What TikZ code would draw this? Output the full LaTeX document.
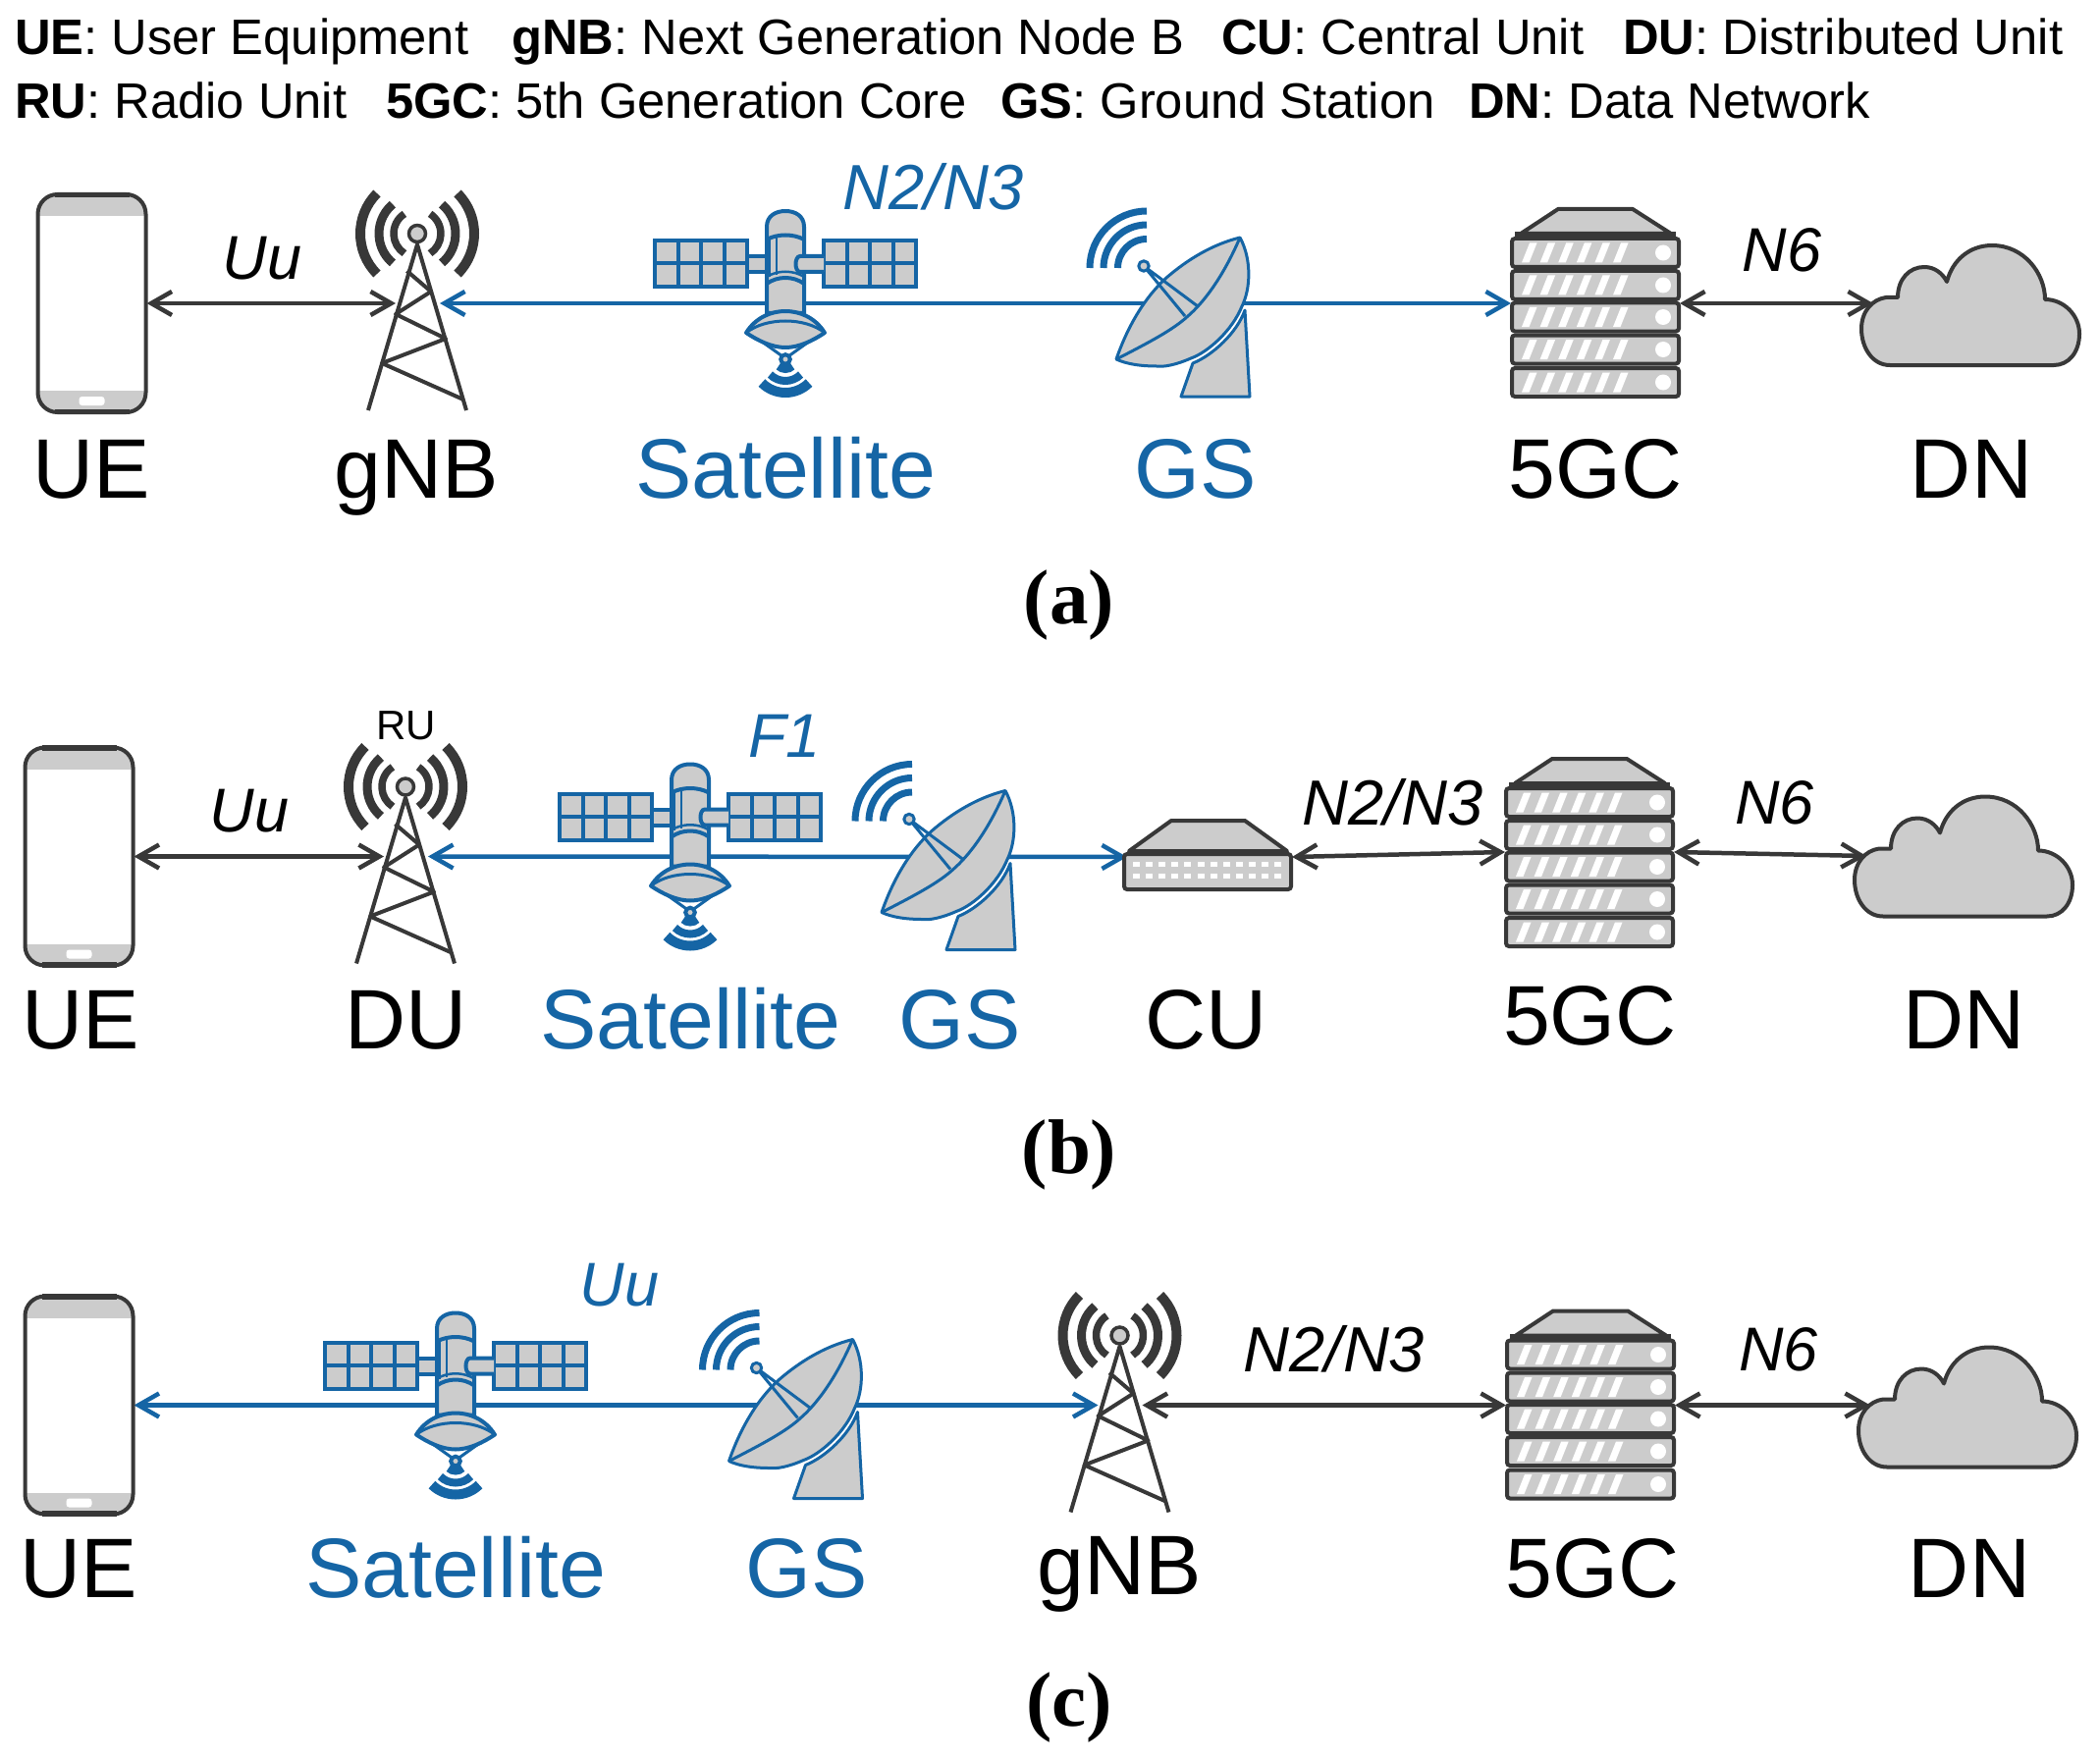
\documentclass[tikz,border=0pt]{standalone}
\usepackage{fontspec}
\setmainfont{Liberation Sans}
\newfontfamily\capfam{Liberation Serif}
\usetikzlibrary{arrows.meta}
\definecolor{sblue}{HTML}{1565A5}
\definecolor{sdark}{HTML}{383838}
\definecolor{sgray}{HTML}{CCCCCC}
\newcommand{\fsz}[1]{\fontsize{#1}{#1}\selectfont}
\tikzset{
  hub/.style={inner sep=0,outer sep=0,minimum height=2pt,minimum width=#1},
  blk/.style={draw=sdark,line width=4.5pt,{Straight Barb[length=21pt,width=24pt]}-{Straight Barb[length=21pt,width=24pt]}},
  blu/.style={draw=sblue,line width=4.5pt,{Straight Barb[length=21pt,width=24pt]}-{Straight Barb[length=21pt,width=24pt]}},
  big/.style={anchor=base,inner sep=0,font=\fsz{86}},
  elab/.style={anchor=base,inner sep=0,font=\fsz{63}\itshape},
  leg/.style={anchor=base west,inner sep=0,font=\fsz{50.7}},
  capt/.style={anchor=base,inner sep=0,font=\capfam\fsz{79}\bfseries},
  pics/phone/.style={code={
    \begin{scope}
      \clip[rounded corners=20pt] (-55,-111) rectangle (55,111);
      \fill[white] (-55,-111) rectangle (55,111);
      \fill[sgray] (-55,89) rectangle (55,111);
      \fill[sgray] (-55,-89) rectangle (55,-111);
    \end{scope}
    \fill[white,rounded corners=3pt] (-13,-95) rectangle (13,-104);
    \draw[sdark,line width=4pt,rounded corners=20pt] (-55,-111) rectangle (55,111);
    \draw[sdark,line width=5.5pt] (-38,110.5) -- (38,110.5);
    \draw[sdark,line width=5.5pt] (-38,-110.5) -- (38,-110.5);
  }},
  pics/tower/.style={code={
    \draw[sdark,line width=4pt,line join=round] (-50,-109) -- (0,60) -- (50,-109);
    \draw[sdark,line width=4pt,line join=round] (-10.5,33) -- (14,12) -- (-22,-11) -- (29,-36) -- (-36,-61) -- (47,-98);
    \draw[sdark,line width=3.5pt,fill=sgray] (0,71) circle[radius=8.5pt];
    \foreach \r/\a/\w in {58pt/45/10pt,39pt/50/9pt,24pt/57/7.5pt}{
      \draw[sdark,line width=\w] ([shift={(0,71)}]\a:\r) arc[start angle=\a,end angle=-\a,radius=\r];
      \draw[sdark,line width=\w] ([shift={(0,71)}]180-\a:\r) arc[start angle=180-\a,end angle=180+\a,radius=\r];
    }
  }},
  pics/sat/.style={code={
    \begin{scope}[sblue,line width=4pt]
      \foreach \xa/\xb in {-133/-39,39/133}{
        \draw[fill=sgray] (\xa,17) rectangle (\xb,64);
        \draw (\xa,40.5) -- (\xb,40.5);
        \foreach \k in {1,2,3}{ \draw ({\xa+\k*23.5},17) -- ({\xa+\k*23.5},64); }
      }
      \draw[fill=sgray] (-39,32) rectangle (-19,48);
      \draw[fill=sgray] (-19,-10) -- (-19,78) .. controls (-19,89) and (-10,94) .. (0,94) .. controls (10,94) and (19,89) .. (19,78) -- (19,-10) -- cycle;
      \draw[fill=sgray] (39,32) -- (15,32) .. controls (9,32) and (9,48) .. (15,48) -- (39,48);
      \draw (-19,65) .. controls (-8,71) and (8,71) .. (19,65);
      \draw (-19,20) .. controls (-8,28) and (8,28) .. (19,20);
      \draw[line width=2.5pt] (-19,27) .. controls (-8,34) and (8,34) .. (19,27);
      \draw[line width=2.5pt] (-16,67) -- (-16,27) (-9,68) -- (-9,29);
      \draw[fill=sgray,line join=round] (-40,-30) .. controls (-30,-14) and (-14,-8) .. (0,-8) .. controls (14,-8) and (30,-14) .. (40,-30) .. controls (28,-38) and (14,-45) .. (0,-45) .. controls (-14,-45) and (-28,-38) .. (-40,-30) -- cycle;
      \draw[line width=3pt] (-40,-30) .. controls (-20,-14) and (20,-14) .. (40,-30);
      \draw[line width=3pt] (-24,-39) -- (-3,-54) (24,-39) -- (3,-54);
      \draw[fill=sgray] (0,-57) circle[radius=4.8pt];
      \foreach \r/\w in {10pt/8pt,22pt/8pt,34pt/10pt}{
        \draw[line width=\w] ([shift={(0,-57)}]-135:\r) arc[start angle=-135,end angle=-45,radius=\r];
      }
    \end{scope}
  }},
  pics/dish/.style={code={
    \begin{scope}[sblue,line width=3pt,line join=round]
      \foreach \r in {58pt,44pt,29.5pt}{
        \draw[line width=7pt] ([shift={(-32,36)}]90:\r) arc[start angle=90,end angle=180,radius=\r];
      }
      \draw[fill=sgray] (15,-61) -- (3,-95) -- (73,-95) -- (68,-7) .. controls (60,-30) and (35,-53) .. (15,-61) -- cycle;
      \draw[fill=sgray] (63,67) .. controls (75,45) and (74,15) .. (65,-3) .. controls (55,-28) and (30,-50) .. (13,-56) .. controls (-3,-63) and (-15,-65) .. (-22,-64) .. controls (-38,-64) and (-52,-62) .. (-63,-57) .. controls (-52,-25) and (-35,5) .. (-12,26) .. controls (10,45) and (35,60) .. (63,67) -- cycle;
      \draw (-63,-57) .. controls (-30,-40) and (-5,-27) .. (10,-13) .. controls (25,0) and (45,25) .. (63,67);
      \draw (-35,38) -- (7,-13) (-35,38) -- (20,-3);
      \draw[fill=sgray] (-35,38) circle[radius=5.2pt];
    \end{scope}
  }},
  pics/server/.style={code={
    \draw[sdark,line width=4pt,fill=sgray,line join=round] (-76,71) -- (-38,96) -- (38,96) -- (77,71) -- cycle;
    \draw[sdark,line width=5pt] (-82,70) -- (82,70);
    \foreach \c in {51.5,18.5,-14,-47,-80.5}{
      \draw[sdark,line width=4pt,fill=sgray,rounded corners=3pt] (-85,\c-14.5) rectangle (85,\c+14.5);
      \foreach \k in {0,...,5}{
        \fill[white] ({-75+\k*18.6},\c-10) -- ({-67.5+\k*18.6},\c-10) -- ({-59.5+\k*18.6},\c+10) -- ({-67+\k*18.6},\c+10) -- cycle;
      }
      \fill[white] (69,\c) circle[radius=8pt];
    }
  }},
  pics/cu/.style={code={
    \draw[sdark,line width=4pt,fill=sgray,line join=round] (-80,6) -- (-37,37) -- (38,37) -- (81,6) -- cycle;
    \draw[sdark,line width=4pt,fill=sgray,rounded corners=3pt] (-85,3) rectangle (85,-33);
    \foreach \k in {0,...,11}{
      \fill[white] ({-76+\k*13.1},-5) rectangle ({-69+\k*13.1},-10);
      \fill[white] ({-76+\k*13.1},-17) rectangle ({-69+\k*13.1},-22);
    }
  }},
  pics/cloud/.style={code={
    \draw[sdark,line width=4pt,fill=sgray,line join=round] (-82,-63) .. controls (-100,-63) and (-111,-45) .. (-111,-26) .. controls (-111,-8) and (-100,4) .. (-86,6) -- (-74,6) .. controls (-74,25) and (-62,37) .. (-47,37) .. controls (-36,37) and (-28,30) .. (-24,22) .. controls (-18,45) and (0,59) .. (22,59) .. controls (55,59) and (76,30) .. (76,4) .. controls (95,4) and (111,-12) .. (111,-31) .. controls (111,-50) and (100,-63) .. (85,-63) -- cycle;
  }},
}
\begin{document}
\begin{tikzpicture}[x=1pt,y=1pt]
\useasboundingbox (0,0) rectangle (2139,-1795);
% legend
\node[leg] (l1) at (15,-56) {\textbf{UE}: User Equipment};
\node[leg] (l2) at (521,-56) {\textbf{gNB}: Next Generation Node B};
\node[leg] (l3) at (1244,-56) {\textbf{CU}: Central Unit};
\node[leg] (l4) at (1653,-56) {\textbf{DU}: Distributed Unit};
\node[leg] (l5) at (15,-120.5) {\textbf{RU}: Radio Unit};
\node[leg] (l6) at (393,-120.5) {\textbf{5GC}: 5th Generation Core};
\node[leg] (l7) at (1019,-120.5) {\textbf{GS}: Ground Station};
\node[leg] (l8) at (1496,-120.5) {\textbf{DN}: Data Network};
% ---- panel a
\node[hub=112pt] (aue) at (93.5,-309) {};
\node[hub=45pt] (agnb) at (425.5,-309) {};
\node[hub=172pt] (acore) at (1625,-309) {};
\node[hub=198pt] (adn) at (2007,-309) {};
\draw[blk] (aue.east) -- (agnb.west);
\draw[blu] (agnb.east) -- (acore.west);
\draw[blk] (acore.east) -- (adn.west);
\pic at (93.5,-309) {phone};
\pic at (425,-309) {tower};
\pic at (800,-309) {sat};
\pic at (1200,-309) {dish};
\pic at (1625,-309) {server};
\pic at (2007,-309) {cloud};
\node[big] (ta1) at (93,-507) {UE};
\node[big] (ta2) at (424,-507) {gNB};
\node[big,text=sblue] (ta3) at (800,-507) {Satellite};
\node[big,text=sblue] (ta4) at (1218,-507) {GS};
\node[big] (ta5) at (1625,-507) {5GC};
\node[big] (ta6) at (2008,-507) {DN};
\node[elab] (ea1) at (267,-285) {Uu};
\node[elab,text=sblue,font=\fsz{65}\itshape] (ea2) at (951,-214) {N2/N3};
\node[elab] (ea3) at (1815,-277) {N6};
\node[capt] (ca) at (1089,-635) {(a)};
% ---- panel b
\node[hub=112pt] (bue) at (80.5,-872.5) {};
\node[hub=45pt] (bdu) at (413.5,-872.5) {};
\node[hub=168pt] (bcu) at (1232,-873) {};
\node[hub=172pt] (bcore) at (1619,-868) {};
\node[hub=198pt] (bdn) at (2000,-872) {};
\draw[blk] (bue.east) -- (bdu.west);
\draw[blu] (bdu.east) -- (bcu.west);
\draw[blk] (bcu.east) -- (bcore.west);
\draw[blk] (bcore.east) -- (bdn.west);
\pic at (80.5,-872.5) {phone};
\pic at (413,-872.5) {tower};
\pic at (703,-872.5) {sat};
\pic at (961,-872.5) {dish};
\pic at (1230,-873) {cu};
\pic at (1619,-869) {server};
\pic at (2000,-870.5) {cloud};
\node[big] (tb1) at (82,-1068) {UE};
\node[big] (tb2) at (414,-1068) {DU};
\node[big,text=sblue] (tb3) at (703.5,-1068) {Satellite};
\node[big,text=sblue] (tb4) at (978,-1068) {GS};
\node[big] (tb5) at (1228.5,-1068) {CU};
\node[big] (tb6) at (1619.5,-1064) {5GC};
\node[big] (tb7) at (2000.5,-1068) {DN};
\node[anchor=base,inner sep=0,font=\fsz{42}] (ru) at (414,-753) {RU};
\node[elab] (eb1) at (254,-847) {Uu};
\node[elab,text=sblue] (eb2) at (799,-771.5) {F1};
\node[elab,font=\fsz{65}\itshape] (eb3) at (1418.5,-840) {N2/N3};
\node[elab] (eb4) at (1807.5,-839) {N6};
\node[capt] (cb) at (1089,-1195) {(b)};
% ---- panel c
\node[hub=112pt] (cue) at (80.5,-1431.5) {};
\node[hub=45pt] (cgnb) at (1141,-1431.5) {};
\node[hub=172pt] (ccore) at (1620,-1431.5) {};
\node[hub=198pt] (cdn) at (2004,-1431.5) {};
\draw[blu] (cue.east) -- (cgnb.west);
\draw[blk] (cgnb.east) -- (ccore.west);
\draw[blk] (ccore.east) -- (cdn.west);
\pic at (80.5,-1431.5) {phone};
\pic at (464,-1431.5) {sat};
\pic at (805.5,-1431.5) {dish};
\pic at (1140.5,-1431.5) {tower};
\pic at (1620,-1431.5) {server};
\pic at (2004,-1431.5) {cloud};
\node[big] (tc1) at (80,-1627) {UE};
\node[big,text=sblue] (tc2) at (464,-1627) {Satellite};
\node[big,text=sblue] (tc3) at (822,-1627) {GS};
\node[big] (tc4) at (1140,-1624) {gNB};
\node[big] (tc5) at (1622,-1627) {5GC};
\node[big] (tc6) at (2006,-1627) {DN};
\node[elab,text=sblue] (ec1) at (631,-1330) {Uu};
\node[elab,font=\fsz{65}\itshape] (ec2) at (1359,-1397) {N2/N3};
\node[elab] (ec3) at (1811.5,-1396) {N6};
\node[capt] (cc) at (1089,-1758) {(c)};
\end{tikzpicture}
\end{document}
